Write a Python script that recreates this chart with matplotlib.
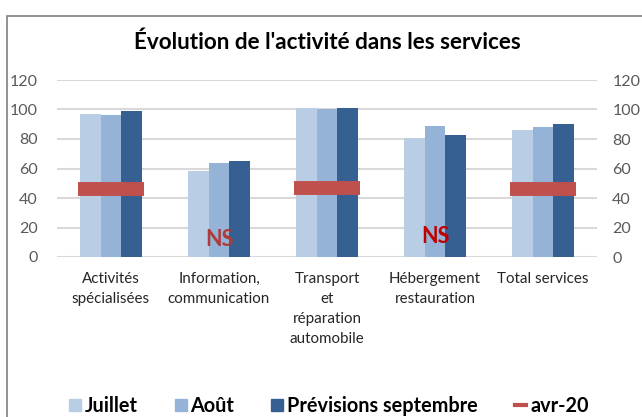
import numpy as np
import matplotlib
matplotlib.use("Agg")
import matplotlib.pyplot as plt
from matplotlib.patches import Rectangle, Patch
from matplotlib.lines import Line2D

plt.rcParams['font.family'] = ['Lato', 'DejaVu Sans']

categories = ["Activités\nspécialisées", "Information,\ncommunication",
              "Transport\net\nréparation\nautomobile", "Hébergement\nrestauration",
              "Total services"]
juillet = [97, 58, 101, 81, 86]
aout = [96, 64, 100, 89, 88]
septembre = [99, 65, 101, 83, 90]
avr20 = [46, np.nan, 47, np.nan, 46]
ns_pos = [1, 3]
ns_y = [12, 14]
ns_colors = ["#B03A3A", "#C00000"]
yticks = [0, 20, 40, 60, 80, 100, 120]

fig = plt.figure(figsize=(6.42, 4.17), dpi=100)
fig.patches.append(Rectangle((7/642, -0.2), 1.2, 1 - 15.5/417 + 0.2, transform=fig.transFigure,
                             fill=False, edgecolor="#808080", lw=1.2))
ax = fig.add_axes([57/642, 1 - 257/417, 540/642, 177/417])

x = np.arange(len(categories))
w = 0.191
ax.bar(x - w, juillet, w, color="#B9CDE5", zorder=2)
ax.bar(x, aout, w, color="#95B3D7", zorder=2)
ax.bar(x + w, septembre, w, color="#376092", zorder=2)
for i, v in enumerate(avr20):
    if not np.isnan(v):
        ax.hlines(v, x[i] - 0.31, x[i] + 0.31, color="#C0504D", lw=10, zorder=3)
for p, yy, c in zip(ns_pos, ns_y, ns_colors):
    ax.text(p, yy, "NS", color=c, fontsize=15.5, fontweight="bold", ha="center", va="center", zorder=4)

ax.set_xlim(-0.5, 4.5)
ax.set_ylim(0, 120)
ax.set_yticks(yticks)
ax.yaxis.grid(True, color="#D9D9D9", lw=1.5, zorder=0)
ax.set_axisbelow(True)
for s in ax.spines.values():
    s.set_visible(False)
ax.tick_params(axis="y", length=0, pad=14, labelsize=11.5, labelcolor="#595959")
ax.set_xticks(x)
ax.set_xticklabels(categories, fontsize=10.9, color="#262626", linespacing=1.55)
ax.tick_params(axis="x", length=0, pad=11)

ax2 = ax.twinx()
ax2.set_ylim(0, 120)
ax2.set_yticks(yticks)
for s in ax2.spines.values():
    s.set_visible(False)
ax2.tick_params(axis="y", length=0, pad=11, labelsize=11.5, labelcolor="#595959")

fig.text(327/642, 1 - 42/417, "Évolution de l'activité dans les services", ha="center", va="center",
         fontsize=16.2, fontweight="bold")

handles = [Patch(color="#B9CDE5"), Patch(color="#95B3D7"), Patch(color="#376092"),
           Line2D([0], [0], color="#C0504D", lw=3)]
labels = ["Juillet", "Août", "Prévisions septembre", "avr-20"]
fig.legend(handles, labels, loc="center", bbox_to_anchor=(329/642, 1 - 406/417), ncol=4,
           frameon=False, prop={"weight": "bold", "size": 14.3}, handlelength=0.6,
           handleheight=0.6, handletextpad=0.2, columnspacing=1.85)

fig.savefig("out.png", dpi=100)
